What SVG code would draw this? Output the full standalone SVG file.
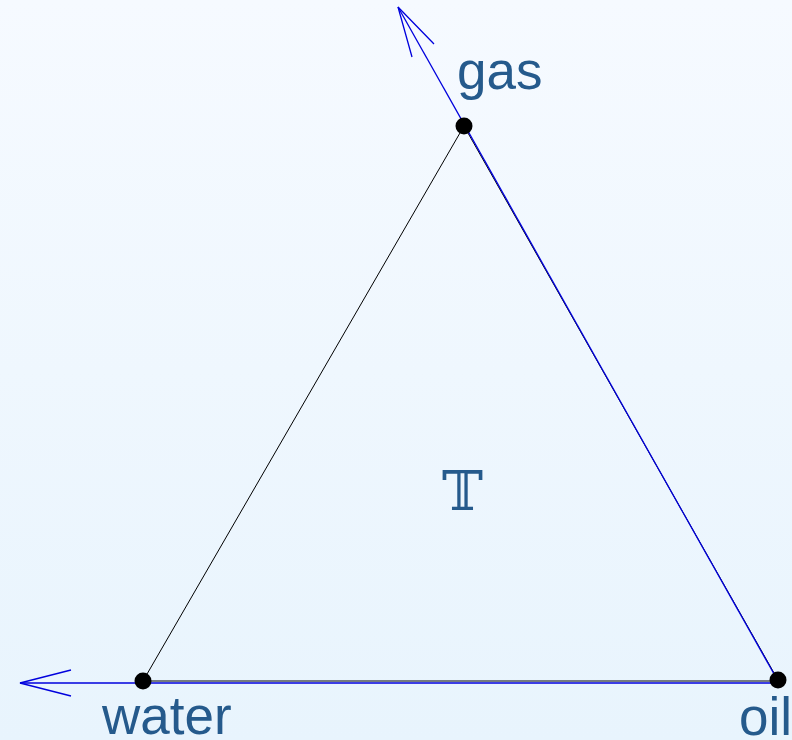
<svg xmlns="http://www.w3.org/2000/svg" width="792" height="740" viewBox="0 0 792 740">
<defs>
<linearGradient id="bg" x1="0" y1="0" x2="0" y2="1">
<stop offset="0" stop-color="#f6faff"/>
<stop offset="1" stop-color="#e8f4fd"/>
</linearGradient>
<style>
.lbl{font-family:"Liberation Sans",Arial,sans-serif;font-size:53px;fill:#255a8c}
.edge{stroke:#000;stroke-width:1;fill:none}
.blue{stroke:#0000dd;stroke-width:1.3;fill:none}
.dot{fill:#000}
</style>
</defs>
<rect width="792" height="740" fill="url(#bg)"/>
<g id="connectors">
<line class="edge" x1="464" y1="126" x2="143" y2="681"/>
<line class="edge" x1="464" y1="126" x2="778" y2="680"/>
<line class="edge" x1="143" y1="681" x2="778" y2="681" stroke="#555" stroke-width="1.5"/>
<line class="blue" x1="778" y1="681" x2="398" y2="7"/>
<polyline class="blue" points="434,44 398,7 412,57"/>
<line class="blue" x1="778" y1="683" x2="20" y2="683"/>
<polyline class="blue" points="71,670 20,683 71,696"/>
</g>
<g id="gas"><circle class="dot" cx="464" cy="126" r="8.5"/><text class="lbl" x="457" y="89">gas</text></g>
<g id="water"><circle class="dot" cx="143" cy="681" r="8.5"/><text class="lbl" x="102" y="734">water</text></g>
<g id="oil"><circle class="dot" cx="778" cy="680" r="8.5"/><text class="lbl" x="739" y="735">oil</text></g>
<g id="T"><text x="442" y="510" style="font-family:'DejaVu Serif',serif;font-size:55px;fill:#255a8c">𝕋</text></g>
</svg>
